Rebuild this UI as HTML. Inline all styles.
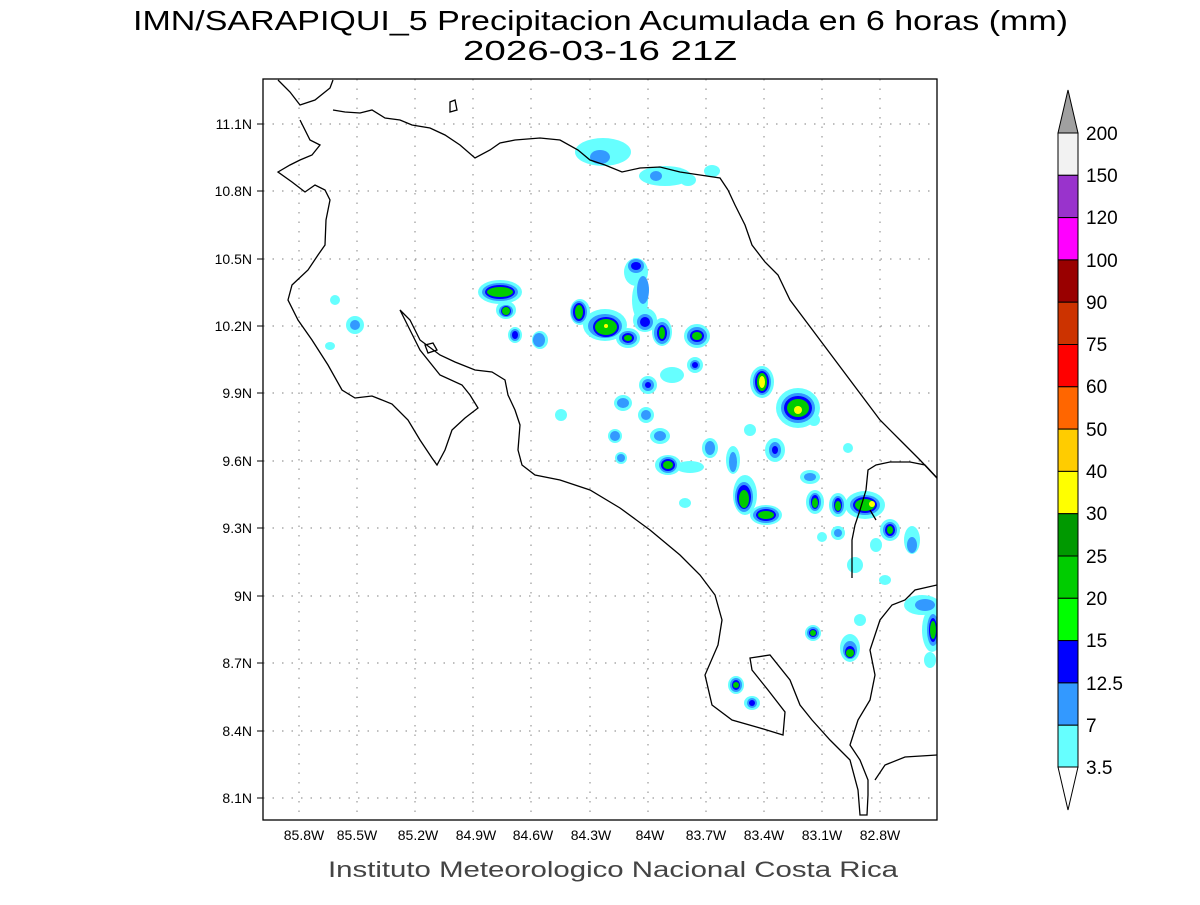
<!DOCTYPE html>
<html><head><meta charset="utf-8"><style>
body{margin:0;background:#fff}
svg text{font-family:"Liberation Sans",sans-serif}
</style></head><body>
<svg width="1200" height="900" viewBox="0 0 1200 900" xmlns="http://www.w3.org/2000/svg">
<rect width="1200" height="900" fill="#fff"/>
<text x="133" y="30" font-size="28" fill="#000" textLength="935" lengthAdjust="spacingAndGlyphs">IMN/SARAPIQUI_5 Precipitacion Acumulada en 6 horas (mm)</text>
<text x="463" y="60" font-size="28" fill="#000" textLength="274" lengthAdjust="spacingAndGlyphs">2026-03-16 21Z</text>
<defs><clipPath id="c"><rect x="263" y="79" width="674" height="741"/></clipPath></defs>
<g clip-path="url(#c)">
<g stroke="#999" stroke-width="1.2" stroke-dasharray="1.5 8">
<line x1="299" y1="79" x2="299" y2="820"/><line x1="357" y1="79" x2="357" y2="820"/><line x1="415" y1="79" x2="415" y2="820"/><line x1="473" y1="79" x2="473" y2="820"/><line x1="531" y1="79" x2="531" y2="820"/><line x1="590" y1="79" x2="590" y2="820"/><line x1="648" y1="79" x2="648" y2="820"/><line x1="706" y1="79" x2="706" y2="820"/><line x1="764" y1="79" x2="764" y2="820"/><line x1="822" y1="79" x2="822" y2="820"/><line x1="880" y1="79" x2="880" y2="820"/>
<line x1="263" y1="124" x2="937" y2="124"/><line x1="263" y1="191" x2="937" y2="191"/><line x1="263" y1="259" x2="937" y2="259"/><line x1="263" y1="326" x2="937" y2="326"/><line x1="263" y1="393" x2="937" y2="393"/><line x1="263" y1="461" x2="937" y2="461"/><line x1="263" y1="528" x2="937" y2="528"/><line x1="263" y1="596" x2="937" y2="596"/><line x1="263" y1="663" x2="937" y2="663"/><line x1="263" y1="731" x2="937" y2="731"/><line x1="263" y1="798" x2="937" y2="798"/>
</g>
<g fill="#66ffff">
<ellipse cx="603" cy="152" rx="28" ry="14"/><ellipse cx="665" cy="176" rx="26" ry="10"/><ellipse cx="688" cy="180" rx="8" ry="6"/><ellipse cx="712" cy="171" rx="8" ry="6"/>
<ellipse cx="500" cy="292" rx="22" ry="12"/><ellipse cx="506" cy="310" rx="10" ry="9"/><ellipse cx="515" cy="335" rx="7" ry="8"/><ellipse cx="540" cy="340" rx="8" ry="9"/>
<ellipse cx="580" cy="312" rx="10" ry="13"/><ellipse cx="605" cy="325" rx="22" ry="16"/><ellipse cx="628" cy="338" rx="12" ry="10"/><ellipse cx="636" cy="272" rx="12" ry="14"/><ellipse cx="640" cy="300" rx="8" ry="20"/><ellipse cx="645" cy="320" rx="12" ry="12"/><ellipse cx="662" cy="332" rx="10" ry="14"/>
<ellipse cx="697" cy="336" rx="13" ry="12"/><ellipse cx="695" cy="365" rx="8" ry="8"/><ellipse cx="672" cy="375" rx="12" ry="8"/><ellipse cx="648" cy="385" rx="9" ry="9"/><ellipse cx="623" cy="403" rx="9" ry="8"/><ellipse cx="646" cy="415" rx="8" ry="8"/><ellipse cx="660" cy="436" rx="10" ry="8"/><ellipse cx="615" cy="436" rx="7" ry="7"/><ellipse cx="621" cy="458" rx="6" ry="6"/>
<ellipse cx="668" cy="465" rx="13" ry="10"/><ellipse cx="690" cy="467" rx="14" ry="6"/><ellipse cx="710" cy="448" rx="8" ry="10"/><ellipse cx="733" cy="460" rx="7" ry="14"/><ellipse cx="685" cy="503" rx="6" ry="5"/>
<ellipse cx="745" cy="495" rx="12" ry="20"/><ellipse cx="766" cy="515" rx="16" ry="10"/><ellipse cx="762" cy="382" rx="12" ry="16"/><ellipse cx="798" cy="408" rx="22" ry="20"/><ellipse cx="775" cy="450" rx="10" ry="12"/><ellipse cx="750" cy="430" rx="6" ry="6"/><ellipse cx="810" cy="477" rx="10" ry="7"/>
<ellipse cx="815" cy="502" rx="9" ry="12"/><ellipse cx="838" cy="505" rx="9" ry="12"/><ellipse cx="838" cy="533" rx="7" ry="7"/><ellipse cx="865" cy="505" rx="20" ry="14"/><ellipse cx="890" cy="530" rx="10" ry="11"/><ellipse cx="876" cy="545" rx="6" ry="7"/><ellipse cx="912" cy="540" rx="8" ry="14"/><ellipse cx="855" cy="565" rx="8" ry="8"/><ellipse cx="885" cy="580" rx="6" ry="5"/>
<ellipse cx="922" cy="605" rx="18" ry="10"/><ellipse cx="932" cy="630" rx="10" ry="22"/><ellipse cx="930" cy="660" rx="6" ry="8"/><ellipse cx="813" cy="633" rx="8" ry="8"/><ellipse cx="850" cy="648" rx="10" ry="14"/><ellipse cx="860" cy="620" rx="6" ry="6"/><ellipse cx="736" cy="685" rx="8" ry="9"/><ellipse cx="752" cy="703" rx="8" ry="7"/><ellipse cx="822" cy="537" rx="5" ry="5"/>
<ellipse cx="355" cy="325" rx="9" ry="9"/><ellipse cx="335" cy="300" rx="5" ry="5"/><ellipse cx="330" cy="346" rx="5" ry="4"/><ellipse cx="561" cy="415" rx="6" ry="6"/><ellipse cx="848" cy="448" rx="5" ry="5"/><ellipse cx="814" cy="420" rx="6" ry="6"/>
</g>
<g fill="#3399ff">
<ellipse cx="600" cy="157" rx="10" ry="7"/><ellipse cx="656" cy="176" rx="6" ry="5"/>
<ellipse cx="500" cy="292" rx="18" ry="9"/><ellipse cx="506" cy="311" rx="7" ry="6"/><ellipse cx="515" cy="335" rx="5" ry="6"/><ellipse cx="539" cy="340" rx="6" ry="7"/>
<ellipse cx="579" cy="312" rx="8" ry="11"/><ellipse cx="605" cy="326" rx="17" ry="12"/><ellipse cx="628" cy="338" rx="9" ry="7"/><ellipse cx="636" cy="266" rx="8" ry="7"/><ellipse cx="643" cy="290" rx="6" ry="14"/><ellipse cx="645" cy="322" rx="8" ry="8"/><ellipse cx="662" cy="333" rx="8" ry="11"/>
<ellipse cx="697" cy="336" rx="10" ry="9"/><ellipse cx="695" cy="365" rx="5" ry="5"/><ellipse cx="648" cy="385" rx="6" ry="6"/><ellipse cx="623" cy="403" rx="6" ry="5"/><ellipse cx="646" cy="415" rx="5" ry="5"/><ellipse cx="660" cy="436" rx="6" ry="5"/><ellipse cx="615" cy="436" rx="5" ry="5"/><ellipse cx="621" cy="458" rx="4" ry="4"/>
<ellipse cx="668" cy="465" rx="9" ry="8"/><ellipse cx="710" cy="448" rx="5" ry="7"/><ellipse cx="733" cy="462" rx="4" ry="10"/>
<ellipse cx="744" cy="497" rx="9" ry="15"/><ellipse cx="766" cy="515" rx="13" ry="8"/><ellipse cx="762" cy="382" rx="9" ry="13"/><ellipse cx="798" cy="408" rx="17" ry="15"/><ellipse cx="775" cy="450" rx="6" ry="8"/><ellipse cx="810" cy="477" rx="6" ry="4"/>
<ellipse cx="815" cy="502" rx="6" ry="9"/><ellipse cx="838" cy="505" rx="6" ry="9"/><ellipse cx="838" cy="533" rx="4" ry="4"/><ellipse cx="865" cy="505" rx="15" ry="10"/><ellipse cx="890" cy="530" rx="7" ry="8"/><ellipse cx="912" cy="545" rx="5" ry="8"/>
<ellipse cx="925" cy="605" rx="10" ry="6"/><ellipse cx="933" cy="630" rx="6" ry="16"/><ellipse cx="813" cy="633" rx="6" ry="6"/><ellipse cx="850" cy="650" rx="7" ry="9"/><ellipse cx="736" cy="685" rx="6" ry="7"/><ellipse cx="752" cy="703" rx="5" ry="5"/>
<ellipse cx="355" cy="325" rx="5" ry="5"/>
</g>
<g fill="#0000ff">
<ellipse cx="500" cy="292" rx="15" ry="7"/><ellipse cx="506" cy="311" rx="5" ry="5"/><ellipse cx="515" cy="335" rx="3" ry="4"/><ellipse cx="579" cy="312" rx="6" ry="9"/><ellipse cx="606" cy="327" rx="13" ry="10"/><ellipse cx="628" cy="338" rx="6" ry="5"/><ellipse cx="636" cy="266" rx="5" ry="4"/><ellipse cx="645" cy="322" rx="5" ry="5"/><ellipse cx="662" cy="333" rx="5" ry="8"/><ellipse cx="697" cy="336" rx="7" ry="6"/><ellipse cx="695" cy="365" rx="3" ry="3"/>
<ellipse cx="668" cy="465" rx="7" ry="6"/><ellipse cx="744" cy="497" rx="7" ry="12"/><ellipse cx="766" cy="515" rx="10" ry="6"/><ellipse cx="762" cy="382" rx="7" ry="11"/><ellipse cx="798" cy="408" rx="14" ry="12"/><ellipse cx="815" cy="502" rx="4" ry="7"/><ellipse cx="838" cy="505" rx="4" ry="7"/><ellipse cx="865" cy="505" rx="12" ry="8"/><ellipse cx="890" cy="530" rx="5" ry="6"/><ellipse cx="933" cy="630" rx="4" ry="12"/><ellipse cx="813" cy="633" rx="4" ry="4"/><ellipse cx="850" cy="652" rx="5" ry="6"/><ellipse cx="736" cy="685" rx="4" ry="5"/><ellipse cx="752" cy="703" rx="3" ry="3"/><ellipse cx="648" cy="385" rx="3" ry="3"/><ellipse cx="775" cy="450" rx="3" ry="4"/>
</g>
<g fill="#00cc00">
<ellipse cx="500" cy="292" rx="13" ry="5"/><ellipse cx="506" cy="311" rx="4" ry="4"/><ellipse cx="579" cy="312" rx="4" ry="7"/><ellipse cx="606" cy="327" rx="11" ry="8"/><ellipse cx="628" cy="338" rx="4" ry="3"/><ellipse cx="662" cy="333" rx="3" ry="6"/><ellipse cx="697" cy="336" rx="5" ry="4"/><ellipse cx="668" cy="465" rx="5" ry="4"/><ellipse cx="744" cy="499" rx="5" ry="9"/><ellipse cx="766" cy="515" rx="8" ry="4"/><ellipse cx="762" cy="382" rx="5" ry="9"/><ellipse cx="798" cy="408" rx="11" ry="9"/><ellipse cx="815" cy="503" rx="3" ry="5"/><ellipse cx="838" cy="506" rx="3" ry="5"/><ellipse cx="865" cy="505" rx="10" ry="6"/><ellipse cx="890" cy="530" rx="3" ry="4"/><ellipse cx="933" cy="630" rx="3" ry="9"/><ellipse cx="850" cy="653" rx="4" ry="4"/><ellipse cx="736" cy="685" rx="3" ry="3"/><ellipse cx="813" cy="633" rx="3" ry="3"/>
</g>
<g fill="#ffff00"><ellipse cx="762" cy="382" rx="3" ry="6"/><ellipse cx="798" cy="410" rx="4" ry="4"/><ellipse cx="872" cy="504" rx="3" ry="3"/><ellipse cx="606" cy="326" rx="2" ry="2"/></g>
<g fill="none" stroke="#000" stroke-width="1.3">
<path d="M278,80 L290,92 L300,105 L315,100 L330,88 L333,80"/>
<path d="M333,110 L345,112 L360,113 L372,110 L385,118 L400,120 L412,125 L430,128 L445,135 L460,145 L475,158 L490,150 L500,143 L515,140 L540,138 L560,140 L578,150 L590,160 L605,165 L622,172 L640,168 L660,167 L680,172 L700,175 L720,178 L728,190"/>
<path d="M300,120 L310,140 L320,145 L312,155 L300,160 L290,165 L278,172 L292,182 L305,192 L315,185 L325,190 L330,200 L326,220 L325,245 L318,255 L308,270 L292,285 L288,300 L298,320 L312,340 L328,365 L342,390 L355,398 L372,396 L392,404 L408,420 L420,440 L432,458 L437,465 L445,450 L452,430 L465,418 L478,408 L470,395 L462,385 L440,375 L420,350 L410,330 L400,310 L410,320 L420,340 L440,355 L455,362 L475,370 L492,372 L505,380 L508,395 L515,410 L520,425 L518,450 L522,465 L535,475 L560,480 L590,490 L620,508 L650,530 L680,555 L700,575 L715,595 L722,620 L718,645 L705,675 L712,705 L732,720 L760,728 L783,735 L785,712 L768,690 L752,670 L750,658 L770,655 L790,680 L800,705 L812,720 L830,740 L850,760 L858,790 L860,815 L867,815 L868,795 L868,780 L860,760 L850,745 L858,720 L870,700 L875,675 L870,650 L880,620 L892,605 L905,600 L915,590 L937,585"/>
<path d="M728,190 L735,205 L745,225 L752,245 L765,262 L778,275 L790,300 L805,320 L820,340 L835,360 L850,380 L865,400 L880,420 L900,440 L920,460 L937,478"/>
<path d="M937,478 L925,465 L910,462 L890,462 L876,465 L868,470 L866,490 L860,510 L855,525 L852,540 L852,578"/>
<path d="M425,345 L433,343 L437,350 L428,353 Z"/>
<path d="M450,102 L455,100 L457,110 L450,112 Z"/>
<path d="M876,520 L870,510"/>
<path d="M937,755 L905,757 L885,765 L875,780"/>
</g>
</g>
<rect x="263" y="79" width="674" height="741" fill="none" stroke="#000" stroke-width="1.3"/>
<g stroke="#000" stroke-width="1">
<line x1="263" y1="124" x2="257" y2="124"/><line x1="263" y1="191" x2="257" y2="191"/><line x1="263" y1="259" x2="257" y2="259"/><line x1="263" y1="326" x2="257" y2="326"/><line x1="263" y1="393" x2="257" y2="393"/><line x1="263" y1="461" x2="257" y2="461"/><line x1="263" y1="528" x2="257" y2="528"/><line x1="263" y1="596" x2="257" y2="596"/><line x1="263" y1="663" x2="257" y2="663"/><line x1="263" y1="731" x2="257" y2="731"/><line x1="263" y1="798" x2="257" y2="798"/>
</g>
<g font-size="14" fill="#000" text-anchor="end">
<text x="252" y="129">11.1N</text><text x="252" y="196">10.8N</text><text x="252" y="264">10.5N</text><text x="252" y="331">10.2N</text><text x="252" y="398">9.9N</text><text x="252" y="466">9.6N</text><text x="252" y="533">9.3N</text><text x="252" y="601">9N</text><text x="252" y="668">8.7N</text><text x="252" y="736">8.4N</text><text x="252" y="803">8.1N</text>
</g>
<g font-size="14" fill="#000" text-anchor="middle">
<text x="304" y="840">85.8W</text><text x="357" y="840">85.5W</text><text x="418" y="840">85.2W</text><text x="476" y="840">84.9W</text><text x="533" y="840">84.6W</text><text x="591" y="840">84.3W</text><text x="650" y="840">84W</text><text x="706" y="840">83.7W</text><text x="764" y="840">83.4W</text><text x="822" y="840">83.1W</text><text x="880" y="840">82.8W</text>
</g>
<text x="328" y="877" font-size="22" fill="#444" textLength="570" lengthAdjust="spacingAndGlyphs">Instituto Meteorologico Nacional Costa Rica</text>
<g stroke="#000" stroke-width="1">
<polygon points="1058,133 1078,133 1068,90" fill="#a0a0a0"/>
<rect x="1058" y="133" width="20" height="42.3" fill="#f2f2f2"/>
<rect x="1058" y="175.3" width="20" height="42.3" fill="#9933cc"/>
<rect x="1058" y="217.6" width="20" height="42.3" fill="#ff00ff"/>
<rect x="1058" y="259.9" width="20" height="42.3" fill="#990000"/>
<rect x="1058" y="302.2" width="20" height="42.3" fill="#cc3300"/>
<rect x="1058" y="344.5" width="20" height="42.3" fill="#ff0000"/>
<rect x="1058" y="386.8" width="20" height="42.3" fill="#ff6600"/>
<rect x="1058" y="429.1" width="20" height="42.3" fill="#ffcc00"/>
<rect x="1058" y="471.4" width="20" height="42.3" fill="#ffff00"/>
<rect x="1058" y="513.7" width="20" height="42.3" fill="#009900"/>
<rect x="1058" y="556" width="20" height="42.3" fill="#00cc00"/>
<rect x="1058" y="598.3" width="20" height="42.3" fill="#00ff00"/>
<rect x="1058" y="640.6" width="20" height="42.3" fill="#0000ff"/>
<rect x="1058" y="682.9" width="20" height="42.3" fill="#3399ff"/>
<rect x="1058" y="725.2" width="20" height="42" fill="#66ffff"/>
<polygon points="1058,767 1078,767 1068,810" fill="#fff"/>
</g>
<g font-size="19" fill="#000">
<text x="1086" y="140">200</text><text x="1086" y="182">150</text><text x="1086" y="224">120</text><text x="1086" y="267">100</text><text x="1086" y="309">90</text><text x="1086" y="351">75</text><text x="1086" y="393">60</text><text x="1086" y="436">50</text><text x="1086" y="478">40</text><text x="1086" y="520">30</text><text x="1086" y="563">25</text><text x="1086" y="605">20</text><text x="1086" y="647">15</text><text x="1086" y="690">12.5</text><text x="1086" y="732">7</text><text x="1086" y="774">3.5</text>
</g>
</svg>
</body></html>
